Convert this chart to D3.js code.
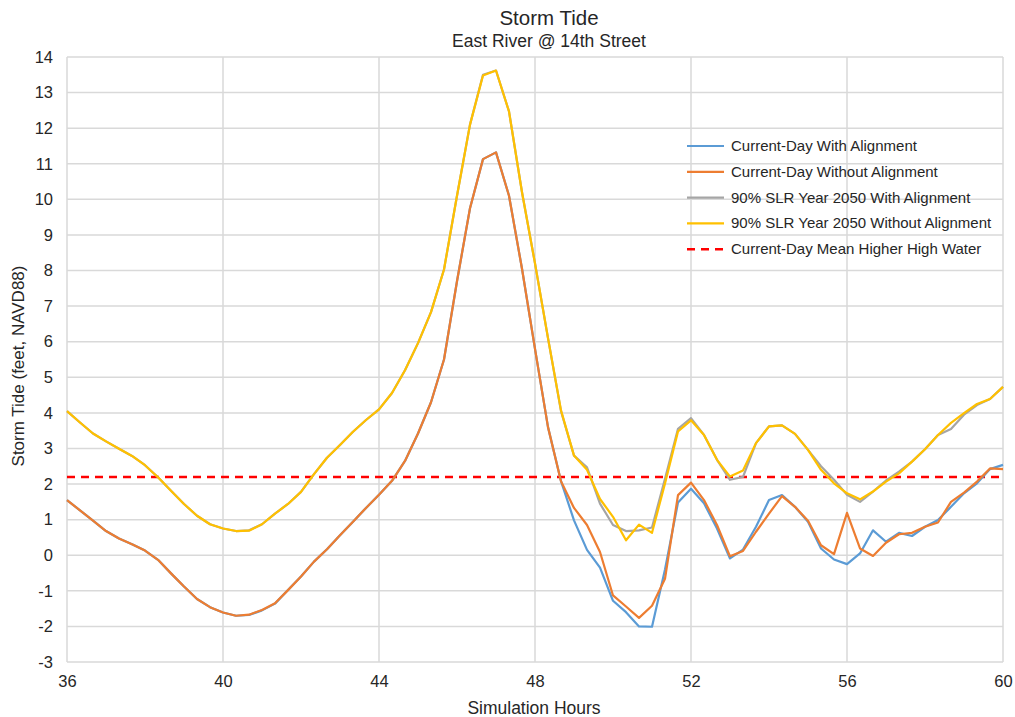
<!DOCTYPE html>
<html>
<head>
<meta charset="utf-8">
<script src="https://cdn.jsdelivr.net/npm/d3@7"></script>
<style>
  body { margin: 0; background: #fff; }
  svg text { font-family: "Liberation Sans", Arial, sans-serif; fill: #262626; }
</style>
</head>
<body>
<svg id="chart" width="1015" height="717"></svg>
<script>
// hours run 36..60 every 20 minutes
const hours = d3.range(73).map(i => 36 + i / 3)

const currentWith = [
    1.55, 1.26, 0.97, 0.68, 0.47, 0.31, 0.13, -0.13, -0.51, -0.88,
    -1.23, -1.46, -1.61, -1.70, -1.68, -1.55, -1.36, -0.98, -0.60, -0.18,
    0.17, 0.56, 0.94, 1.33, 1.70, 2.09, 2.65, 3.42, 4.30, 5.50,
    7.70, 9.75, 11.13, 11.32, 10.10, 8.05, 5.80, 3.60, 2.08, 0.98,
    0.15, -0.35, -1.28, -1.60, -2.00, -2.01, -0.40, 1.48, 1.87, 1.46,
    0.75, -0.09, 0.16, 0.80, 1.55, 1.69, 1.36, 0.94, 0.19, -0.12,
    -0.25, 0.05, 0.70, 0.38, 0.63, 0.54, 0.80, 0.99, 1.36, 1.74,
    2.02, 2.42, 2.54
]
const currentWithout = [
    1.55, 1.26, 0.97, 0.68, 0.47, 0.31, 0.13, -0.13, -0.51, -0.88,
    -1.23, -1.46, -1.61, -1.70, -1.67, -1.54, -1.35, -0.98, -0.60, -0.18,
    0.17, 0.56, 0.94, 1.33, 1.70, 2.09, 2.65, 3.42, 4.30, 5.50,
    7.70, 9.75, 11.13, 11.32, 10.10, 8.05, 5.80, 3.60, 2.08, 1.33,
    0.85, 0.09, -1.13, -1.44, -1.76, -1.42, -0.66, 1.69, 2.04, 1.55,
    0.85, -0.03, 0.12, 0.66, 1.17, 1.66, 1.36, 0.97, 0.28, 0.03,
    1.19, 0.19, -0.02, 0.35, 0.59, 0.63, 0.80, 0.92, 1.50, 1.76,
    2.07, 2.44, 2.42
]
const slrWith = [
    4.05, 3.73, 3.42, 3.20, 2.99, 2.79, 2.53, 2.19, 1.81, 1.44,
    1.11, 0.87, 0.75, 0.68, 0.70, 0.87, 1.17, 1.44, 1.78, 2.28,
    2.74, 3.10, 3.47, 3.80, 4.10, 4.56, 5.20, 5.96, 6.83, 8.03,
    10.10, 12.10, 13.50, 13.62, 12.47, 10.20, 8.20, 6.10, 4.05, 2.80,
    2.47, 1.45, 0.85, 0.68, 0.70, 0.78, 2.15, 3.55, 3.85, 3.38,
    2.68, 2.12, 2.20, 3.15, 3.62, 3.65, 3.41, 2.96, 2.50, 2.12,
    1.70, 1.50, 1.79, 2.10, 2.35, 2.63, 2.98, 3.38, 3.55, 3.95,
    4.22, 4.39, 4.73
]
const slrWithout = [
    4.05, 3.73, 3.42, 3.20, 2.99, 2.79, 2.53, 2.19, 1.81, 1.44,
    1.11, 0.87, 0.75, 0.68, 0.69, 0.87, 1.17, 1.44, 1.78, 2.28,
    2.74, 3.10, 3.47, 3.80, 4.10, 4.56, 5.20, 5.96, 6.83, 8.03,
    10.10, 12.10, 13.48, 13.62, 12.47, 10.20, 8.20, 6.10, 4.07, 2.80,
    2.40, 1.58, 1.08, 0.42, 0.86, 0.63, 2.02, 3.48, 3.79, 3.38,
    2.68, 2.21, 2.38, 3.15, 3.62, 3.65, 3.41, 2.96, 2.40, 2.02,
    1.74, 1.57, 1.79, 2.07, 2.30, 2.63, 2.98, 3.38, 3.72, 3.99,
    4.25, 4.39, 4.73
]
const mhhw = 2.2

const seriesNames = [
    'Current-Day With Alignment',
    'Current-Day Without Alignment',
    '90% SLR Year 2050 With Alignment',
    '90% SLR Year 2050 Without Alignment'
]
const seriesColors = ['#5b9bd5', '#ed7d31', '#a5a5a5', '#ffc000']
const seriesValues = [currentWith, currentWithout, slrWith, slrWithout]
const mhhwName = 'Current-Day Mean Higher High Water'

const xTicks = [36, 40, 44, 48, 52, 56, 60]
const yTicks = d3.range(-3, 15)

const svg = d3.select('#chart')
const margin = { left: 67, right: 12, top: 57, bottom: 55 }
const width = 1015 - margin.left - margin.right
const height = 717 - margin.top - margin.bottom

const x = d3.scaleLinear().domain([36, 60]).range([0, width])
const y = d3.scaleLinear().domain([-3, 14]).range([height, 0])

const g = svg.append('g').attr('transform', `translate(${margin.left},${margin.top})`)

// gridlines
g.append('g')
    .selectAll('line')
    .data(yTicks)
    .join('line')
    .attr('x1', 0).attr('x2', width)
    .attr('y1', d => y(d)).attr('y2', d => y(d))
    .attr('stroke', '#d9d9d9').attr('stroke-width', 1.5)

g.append('g')
    .selectAll('line')
    .data(xTicks)
    .join('line')
    .attr('x1', d => x(d)).attr('x2', d => x(d))
    .attr('y1', 0).attr('y2', height)
    .attr('stroke', '#d9d9d9').attr('stroke-width', 1.5)

// axes (labels only, lines are the grid); plain hyphen for negatives
const yAxis = g.append('g')
    .call(d3.axisLeft(y).tickValues(yTicks).tickSize(0).tickPadding(14).tickFormat(d => String(d)))
yAxis.select('.domain').remove()
yAxis.selectAll('text').style('font-size', '16.5px').attr('fill', '#262626')

const xAxis = g.append('g')
    .attr('transform', `translate(0,${height})`)
    .call(d3.axisBottom(x).tickValues(xTicks).tickSize(0).tickPadding(13).tickFormat(d => String(d)))
xAxis.select('.domain').remove()
xAxis.selectAll('text').style('font-size', '16.5px').attr('fill', '#262626')

// mean higher high water
g.append('line')
    .attr('x1', 0).attr('x2', width)
    .attr('y1', y(mhhw)).attr('y2', y(mhhw))
    .attr('stroke', '#ff0000').attr('stroke-width', 2.5)
    .attr('stroke-dasharray', '8,6')

// series
const line = d3.line()
    .x((d, i) => x(hours[i]))
    .y(d => y(d))

seriesValues.forEach((vals, k) => {
    g.append('path')
        .datum(vals)
        .attr('d', line)
        .attr('fill', 'none')
        .attr('stroke', seriesColors[k])
        .attr('stroke-width', 2.2)
        .attr('stroke-linejoin', 'round')
})

// legend
const legend = svg.append('g').attr('transform', 'translate(687,146)')
const legendRows = seriesNames.map((n, k) => ({ name: n, color: seriesColors[k], dash: null }))
legendRows.push({ name: mhhwName, color: '#ff0000', dash: '8,6' })

legendRows.forEach((r, k) => {
    let row = legend.append('g').attr('transform', `translate(0,${k * 25.8})`)
    row.append('line')
        .attr('x1', 0).attr('x2', 37)
        .attr('stroke', r.color)
        .attr('stroke-width', r.dash ? 2.5 : 2.2)
        .attr('stroke-dasharray', r.dash)
    row.append('text')
        .attr('x', 44).attr('y', 5)
        .style('font-size', '15px')
        .text(r.name)
})

// titles
svg.append('text')
    .attr('x', 549).attr('y', 25)
    .attr('text-anchor', 'middle')
    .style('font-size', '20.5px')
    .text('Storm Tide')

svg.append('text')
    .attr('x', 549).attr('y', 47)
    .attr('text-anchor', 'middle')
    .style('font-size', '17.5px')
    .text('East River @ 14th Street')

svg.append('text')
    .attr('x', 534).attr('y', 714)
    .attr('text-anchor', 'middle')
    .style('font-size', '17.5px')
    .text('Simulation Hours')

svg.append('text')
    .attr('transform', `translate(24,366) rotate(-90)`)
    .attr('text-anchor', 'middle')
    .style('font-size', '17px')
    .text('Storm Tide (feet, NAVD88)')
</script>
</body>
</html>
